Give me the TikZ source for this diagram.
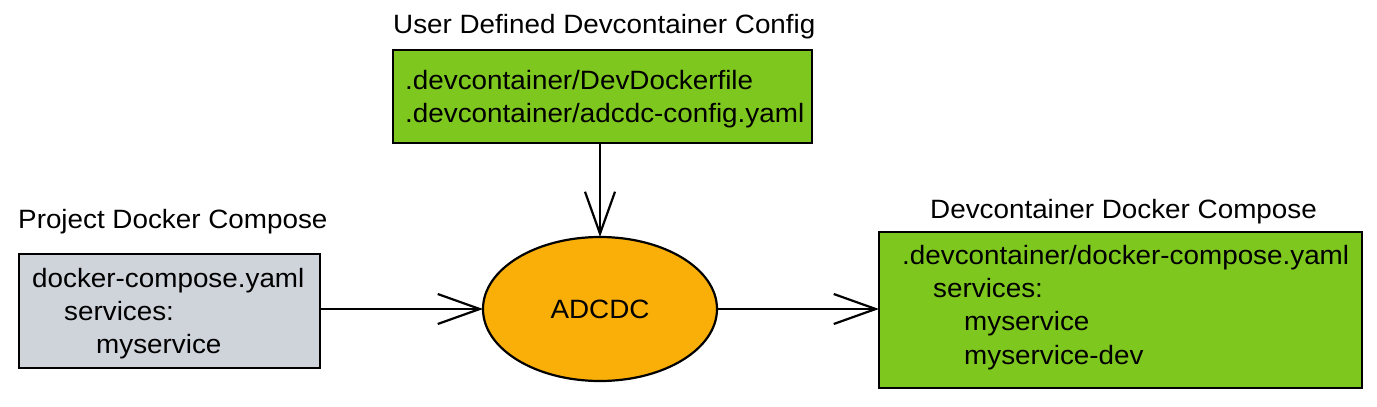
\documentclass[tikz,border=0pt]{standalone}
\usepackage{fontspec}
\setmainfont[FakeStretch=1.05]{Liberation Sans}
\usetikzlibrary{shapes.geometric,arrows.meta}
\definecolor{boxgreen}{HTML}{7EC71F}
\definecolor{boxgray}{HTML}{CFD3DA}
\definecolor{ellorange}{HTML}{F9AF08}
\tikzset{
  txt/.style={font=\fontsize{26.5}{31}\selectfont, inner sep=0pt, anchor=base west},
  filebox/.style={draw=black, line width=2.8pt, rectangle, inner sep=0pt, outer sep=0pt},
  conn/.style={draw=black, line width=2pt, -{Straight Barb[length=42pt, width=30pt, line width=2.2pt]}},
}
\begin{document}
\begin{tikzpicture}[x=1pt, y=-1pt]
\useasboundingbox (0,0) rectangle (1377,407);
% boxes
\node[filebox, fill=boxgreen, minimum width=419pt, minimum height=93pt] (cfg) at (602.5,96.5) {};
\node[filebox, fill=boxgray, minimum width=301pt, minimum height=114pt] (proj) at (169.5,311) {};
\node[filebox, fill=boxgreen, minimum width=483pt, minimum height=156pt] (dc) at (1120.5,310) {};
\node[draw=black, line width=2.2pt, ellipse, fill=ellorange, minimum width=234pt, minimum height=144pt, inner sep=0pt, outer sep=0pt, font=\fontsize{26.5}{31}\selectfont] (adcdc) at (600,309) {ADCDC};
% titles
\node[txt] (tcfg) at (393,33) {User Defined Devcontainer Config};
\node[txt] (tproj) at (18,228) {Project Docker Compose};
\node[txt] (tdc) at (930,218) {Devcontainer Docker Compose};
% box contents
\node[txt] (c1) at (405,89) {.devcontainer/DevDockerfile};
\node[txt] (c2) at (405,122) {.devcontainer/adcdc-config.yaml};
\node[txt] (p1) at (32,287) {docker-compose.yaml};
\node[txt] (p2) at (64,320) {services:};
\node[txt] (p3) at (96,353) {myservice};
\node[txt] (d1) at (902,264) {.devcontainer/docker-compose.yaml};
\node[txt] (d2) at (933,297) {services:};
\node[txt] (d3) at (964,330) {myservice};
\node[txt] (d4) at (964,364) {myservice-dev};
% connectors
\draw[conn] (adcdc.north |- cfg.south) -- (adcdc.north);
\draw[conn] (proj.east |- adcdc.west) -- (adcdc.west);
\draw[conn] (adcdc.east) -- (dc.west |- adcdc.east);
\end{tikzpicture}
\end{document}
